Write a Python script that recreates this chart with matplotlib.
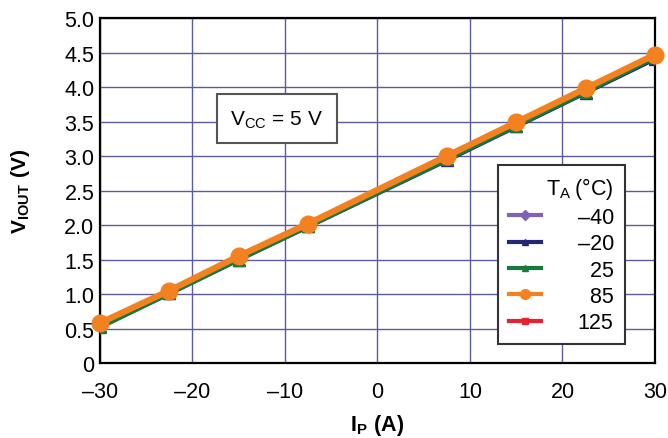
import matplotlib
matplotlib.use("Agg")
import matplotlib.pyplot as plt

plt.rcParams['font.family'] = ['Liberation Sans', 'DejaVu Sans']
plt.rcParams['mathtext.fontset'] = 'custom'
plt.rcParams['mathtext.rm'] = 'Liberation Sans'
plt.rcParams['mathtext.bf'] = 'Liberation Sans:bold'

# primary current (A)
ip = [-30, -22.5, -15, -7.5, 7.5, 15, 22.5, 30]

# output voltage (V) per ambient temperature
v_m40 = [0.54, 1.02, 1.51, 1.99, 2.96, 3.45, 3.94, 4.43]
v_m20 = [0.53, 1.01, 1.50, 1.98, 2.94, 3.43, 3.92, 4.41]
v_25 = [0.52, 1.01, 1.50, 1.98, 2.95, 3.44, 3.93, 4.43]
v_85 = [0.58, 1.05, 1.55, 2.02, 3.00, 3.49, 3.98, 4.47]
v_125 = [0.55, 1.03, 1.52, 2.00, 2.97, 3.46, 3.95, 4.44]

temps = ['\u201340', '\u201320', '\u200725', '\u200785', '125']

xticks = [-30, -20, -10, 0, 10, 20, 30]
xtick_labels = ['\u201330', '\u201320', '\u201310', '0', '10', '20', '30']
yticks = [0, 0.5, 1.0, 1.5, 2.0, 2.5, 3.0, 3.5, 4.0, 4.5, 5.0]
ytick_labels = ['0', '0.5', '1.0', '1.5', '2.0', '2.5', '3.0', '3.5', '4.0', '4.5', '5.0']

fig = plt.figure(figsize=(6.68, 4.39), dpi=100)
ax = fig.add_axes([0.1497, 0.1708, 0.8308, 0.7859])

grid_col = '#5c5c9c'
ax.set_xlim(-30, 30)
ax.set_ylim(0, 5)
ax.set_xticks(xticks)
ax.set_xticklabels(xtick_labels)
ax.set_yticks(yticks)
ax.set_yticklabels(ytick_labels)
ax.tick_params(length=0, labelsize=15.5)
ax.tick_params(axis='x', pad=13)
ax.tick_params(axis='y', pad=4)
ax.grid(True, color=grid_col, lw=1.0)
ax.set_axisbelow(True)
for s in ax.spines.values():
    s.set_linewidth(1.6)
    s.set_color('black')

h_m40, = ax.plot(ip, v_m40, color='#7e63b8', lw=3.5, marker='D', ms=5, zorder=3)
h_125, = ax.plot(ip, v_125, color='#e52330', lw=3.5, marker='s', ms=6, zorder=3)
h_m20, = ax.plot(ip, v_m20, color='#25257a', lw=3.5, marker='^', ms=8, zorder=4)
h_25, = ax.plot(ip, v_25, color='#177a3c', lw=3.5, marker='^', ms=8, zorder=5)
h_85, = ax.plot(ip, v_85, color='#f48120', lw=4.5, marker='o', ms=12, zorder=6, clip_on=False)

leg = ax.legend([h_m40, h_m20, h_25, h_85, h_125], temps,
                title='T$_\\mathrm{A}$\u2009(°C)', loc='lower left',
                bbox_to_anchor=(0.717, 0.055), fancybox=False, framealpha=1,
                edgecolor='#333333', fontsize=15.5, title_fontsize=15.5,
                handlelength=1.5, handletextpad=1.7, labelspacing=0.25,
                borderpad=0.5, borderaxespad=0)
leg.get_frame().set_linewidth(1.5)
leg._legend_box.align = 'right'
for h in leg.legend_handles:
    h.set_linewidth(3)
    h.set_markersize(7 if h.get_marker() == 'o' else 5)

ax.text(-10.9, 3.54, 'V$_\\mathrm{CC}$ = 5 V', fontsize=15, ha='center', va='center',
        bbox=dict(boxstyle='square,pad=0.65', fc='white', ec='#555555', lw=1.5), zorder=7)

ax.set_xlabel('$\\mathbf{I_P\\ (A)}$', fontsize=15.5, va='center')
ax.set_ylabel('$\\mathbf{V_{IOUT}\\ (V)}$', fontsize=15, va='center')
ax.xaxis.set_label_coords(0.5, -0.177)
ax.yaxis.set_label_coords(-0.144, 0.5)

fig.savefig('out.png', dpi=100)
